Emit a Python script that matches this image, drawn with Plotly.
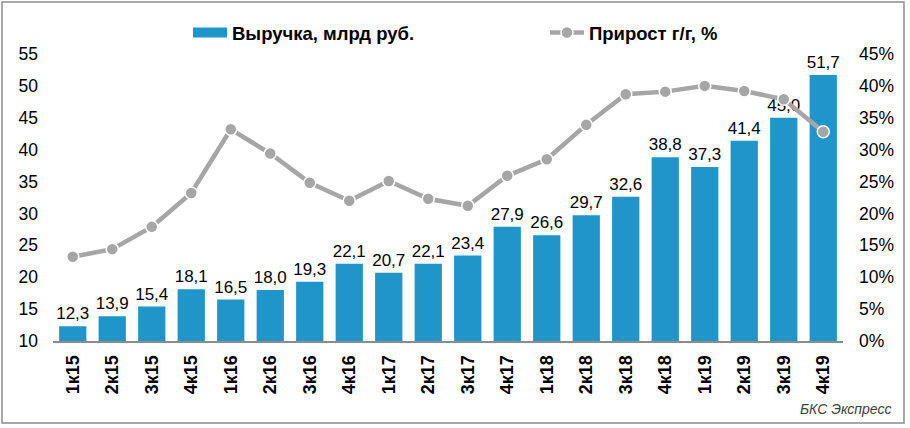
import plotly.graph_objects as go

categories = ["1к15", "2к15", "3к15", "4к15", "1к16", "2к16", "3к16", "4к16", "1к17", "2к17",
              "3к17", "4к17", "1к18", "2к18", "3к18", "4к18", "1к19", "2к19", "3к19", "4к19"]
revenue = [12.3, 13.9, 15.4, 18.1, 16.5, 18.0, 19.3, 22.1, 20.7, 22.1,
           23.4, 27.9, 26.6, 29.7, 32.6, 38.8, 37.3, 41.4, 45.0, 51.7]
growth = [13.2, 14.4, 17.9, 23.2, 33.2, 29.4, 24.8, 22.0, 25.1, 22.3,
          21.2, 25.9, 28.5, 33.9, 38.7, 39.1, 40.0, 39.2, 37.9, 32.8]
left_ticks = [10, 15, 20, 25, 30, 35, 40, 45, 50, 55]
right_ticks = [0, 5, 10, 15, 20, 25, 30, 35, 40, 45]

BLUE = "#2095C9"
GRAY = "#A6A6A6"
FONT = "Liberation Sans, Arial, sans-serif"

W, H = 910, 428
L, R, T, B = 53, 67, 54, 87
PW, PH = W - L - R, H - T - B


def px_x(x):
    return (x - L) / PW


def px_y(y):
    return ((H - B) - y) / PH


fig = go.Figure()

fig.add_trace(go.Bar(
    x=categories, y=revenue, marker=dict(color=BLUE, line=dict(width=0)),
    text=[f"{v:.1f}".replace(".", ",") for v in revenue],
    textposition="outside", cliponaxis=False, constraintext="none",
    textfont=dict(size=17, color="#000000", family=FONT),
    showlegend=False, name="Выручка, млрд руб.",
))

# legend entry for revenue (wide blue swatch)
fig.add_trace(go.Scatter(
    x=[categories[0]], y=[None], mode="lines", line=dict(color=BLUE, width=10),
    name="<b>Выручка, млрд руб.</b>", showlegend=True, hoverinfo="skip",
))

fig.add_trace(go.Scatter(
    x=categories, y=growth, yaxis="y2", mode="lines+markers",
    line=dict(color=GRAY, width=4.5),
    marker=dict(size=12, color=GRAY, line=dict(color="white", width=1.5)),
    name="<b>Прирост г/г, %</b>", cliponaxis=False,
))

fig.update_layout(
    width=W, height=H,
    margin=dict(l=L, r=R, t=T, b=B, autoexpand=False),
    paper_bgcolor="white", plot_bgcolor="white",
    font=dict(family=FONT, size=17, color="#000000"),
    bargap=0.31,
    showlegend=True,
    legend=dict(
        orientation="h", x=px_x(188), xanchor="left", y=px_y(33), yanchor="middle",
        font=dict(size=18.5, family=FONT, color="#000000"),
        entrywidth=308, itemwidth=34,
        bgcolor="rgba(0,0,0,0)",
    ),
    xaxis=dict(
        type="category", range=[-0.5, len(categories) - 0.5],
        tickangle=-90, showgrid=False, ticks="",
        tickfont=dict(size=18, family=FONT, color="#000000"),
        showline=True, linecolor="#8C8C8C", linewidth=2,
        tickprefix="<b>", ticksuffix="</b>", ticklabelstandoff=5,
    ),
    yaxis=dict(
        range=[10, 55], tickvals=left_ticks, showgrid=False, zeroline=False,
        showline=False, ticks="", tickfont=dict(size=17.5, family=FONT, color="#000000"),
        ticklabelstandoff=14,
    ),
    yaxis2=dict(
        range=[0, 45], tickvals=right_ticks, ticktext=[f"{v}%" for v in right_ticks],
        overlaying="y", side="right", showgrid=False, zeroline=False,
        showline=False, ticks="", tickfont=dict(size=17.5, family=FONT, color="#000000"),
        ticklabelstandoff=15,
    ),
    annotations=[dict(
        text="<i>БКС Экспресс</i>", xref="paper", yref="paper",
        x=px_x(894), y=px_y(409),
        xanchor="right", yanchor="middle", showarrow=False,
        font=dict(size=14, family=FONT, color="#404040"),
    )],
    shapes=[dict(
        type="rect", xref="paper", yref="paper", layer="below",
        x0=px_x(2), x1=px_x(904), y0=px_y(423), y1=px_y(2),
        line=dict(color="#8C8C8C", width=1.5), fillcolor="rgba(0,0,0,0)",
    )],
)

fig.write_html("out.html", config={"displayModeBar": False},
               post_script="document.body.style.margin='0';")
